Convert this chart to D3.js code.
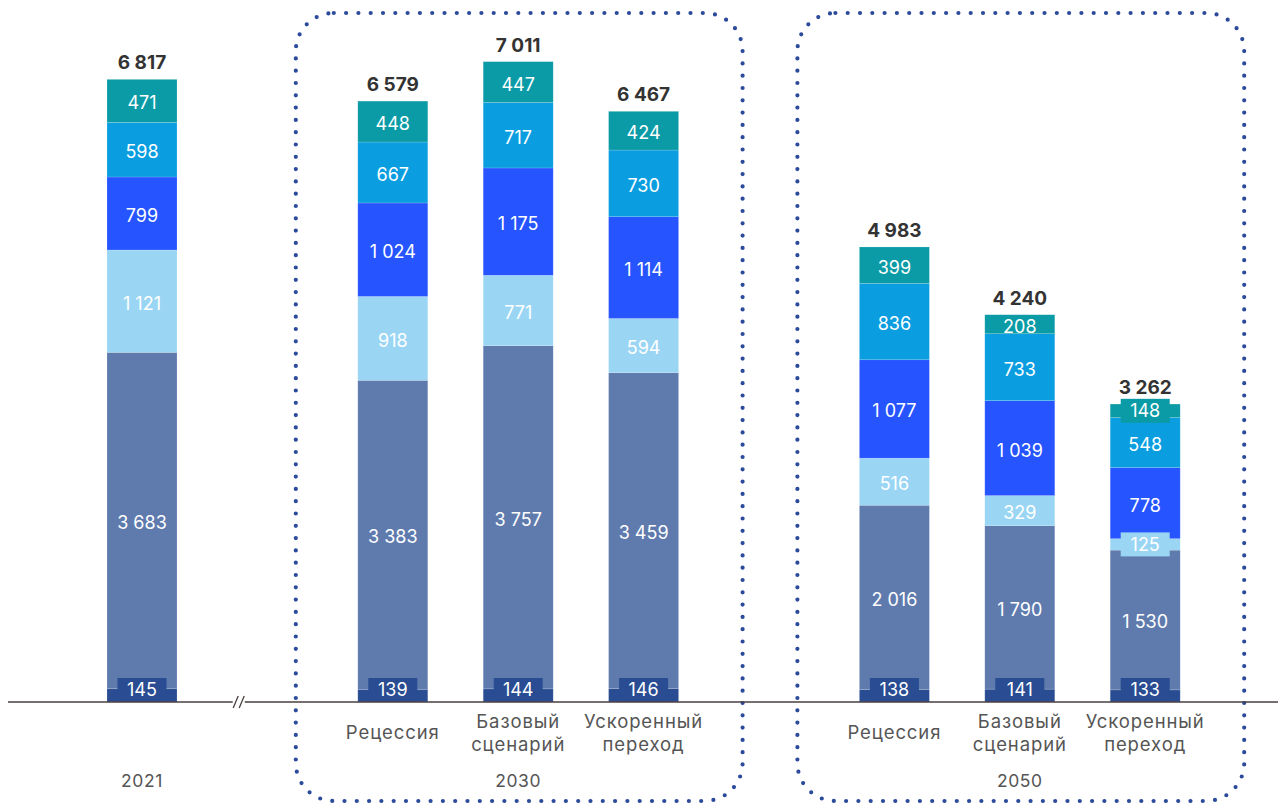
<!DOCTYPE html>
<html><head><meta charset="utf-8">
<script src="https://cdn.jsdelivr.net/npm/d3@7"></script>
<style>
html,body{margin:0;padding:0;background:#fff;}
svg{display:block;font-family:Inter,"Open Sans",sans-serif;}
</style></head>
<body>
<svg id="chart" width="1285" height="804"></svg>
<script>
// ---- data ----
const years = ["2021", "2030", "2050"];
const scenarios = ["Рецессия", "Базовый сценарий", "Ускоренный переход"];
const barYear = ["2021", "2030", "2030", "2030", "2050", "2050", "2050"];
const barScenario = ["", "Рецессия", "Базовый сценарий", "Ускоренный переход", "Рецессия", "Базовый сценарий", "Ускоренный переход"];
const s1 = [145, 139, 144, 146, 138, 141, 133];
const s2 = [3683, 3383, 3757, 3459, 2016, 1790, 1530];
const s3 = [1121, 918, 771, 594, 516, 329, 125];
const s4 = [799, 1024, 1175, 1114, 1077, 1039, 778];
const s5 = [598, 667, 717, 730, 836, 733, 548];
const s6 = [471, 448, 447, 424, 399, 208, 148];
const totals = [6817, 6579, 7011, 6467, 4983, 4240, 3262];

const seriesValues = [s1, s2, s3, s4, s5, s6];
const colors = ["#294C92", "#5F7BAE", "#9AD6F4", "#2654FF", "#0A9EE0", "#0B9BA6"];

const svg = d3.select("#chart");
const baseY = 702;
const fmt = d3.formatLocale({decimal: ",", thousands: "\u2009", grouping: [3], currency: ["", ""]}).format(",d");
const fmtSp = v => fmt(v).replace(/\u2009/g, " ");

// slot keys: bars separated by gaps
const slots = ["b0", "g1", "b1", "b2", "b3", "g2", "b4", "b5", "b6"];
const barSlot = ["b0", "b1", "b2", "b3", "b4", "b5", "b6"];
const x = d3.scalePoint().domain(slots).range([142, 1145.2]);
const y = d3.scaleLinear().domain([0, 7686]).range([baseY, 0]);
const bw = 70;

// build stacked table
const table = barSlot.map((k, i) => {
  const o = {key: k, i};
  seriesValues.forEach((s, j) => o["s" + j] = s[i]);
  return o;
});
const stack = d3.stack().keys(seriesValues.map((s, j) => "s" + j))(table);

// dotted group boxes
const groups = [["b1", "b3"], ["b4", "b6"]];
groups.forEach(([a, b]) => {
  const x0 = x(a) - bw / 2 - 62, x1 = x(b) + bw / 2 + 64;
  svg.append("rect")
    .attr("x", x0).attr("y", 13).attr("width", x1 - x0).attr("height", 788)
    .attr("rx", 38).attr("ry", 38)
    .attr("fill", "none").attr("stroke", "#2B4A9B").attr("stroke-width", 4.2)
    .attr("stroke-linecap", "round").attr("stroke-dasharray", "0 12.3");
});

// bars
const layers = svg.append("g").selectAll("g").data(stack).join("g")
  .attr("fill", (d, j) => colors[j]);
layers.selectAll("rect").data(d => d).join("rect")
  .attr("x", d => x(d.data.key) - bw / 2)
  .attr("y", d => y(d[1]))
  .attr("width", bw)
  .attr("height", d => y(d[0]) - y(d[1]))
  .attr("stroke", "rgba(255,255,255,0.25)").attr("stroke-width", 0.6);

// segment labels
const lblG = svg.append("g");
stack.forEach((layer, j) => {
  layer.forEach(d => {
    const h = y(d[0]) - y(d[1]);
    const cx = x(d.data.key);
    let cy = (y(d[0]) + y(d[1])) / 2;
    const v = d[1] - d[0];
    if (h < 17) {
      const bh = 24, bwid = 49;
      let top = cy - bh / 2;
      if (top + bh > baseY) top = baseY - bh;
      lblG.append("rect").attr("x", cx - bwid / 2).attr("y", top)
        .attr("width", bwid).attr("height", bh).attr("fill", colors[j]);
      cy = top + bh / 2;
    } else {
      cy += 2;
    }
    lblG.append("text").attr("x", cx).attr("y", cy).attr("dy", "0.36em")
      .attr("text-anchor", "middle").attr("fill", "#fff")
      .attr("font-size", 18).attr("font-weight", 400)
      .text(fmtSp(v));
  });
});

// totals
svg.append("g").selectAll("text").data(totals).join("text")
  .attr("x", (d, i) => x(barSlot[i]))
  .attr("y", d => y(d) - 10)
  .attr("text-anchor", "middle").attr("fill", "#333")
  .attr("font-size", 19).attr("font-weight", 700)
  .text(d => fmtSp(d));

// axis line
svg.append("line").attr("x1", 8).attr("x2", 1278).attr("y1", baseY).attr("y2", baseY)
  .attr("stroke", "#4A3F3F").attr("stroke-width", 1.3);
// break mark
const bx = (x("b0") + x("g1")) / 2 + 34;
svg.append("rect").attr("x", bx - 6).attr("y", baseY - 3).attr("width", 12).attr("height", 6).attr("fill", "#fff");
[-3, 3].forEach(o => svg.append("line")
  .attr("x1", bx + o - 2.5).attr("y1", baseY + 6).attr("x2", bx + o + 2.5).attr("y2", baseY - 6)
  .attr("stroke", "#4A3F3F").attr("stroke-width", 1.3));

// scenario labels
const catG = svg.append("g").attr("fill", "#555").attr("font-size", 18.5)
  .attr("letter-spacing", 0.9).attr("text-anchor", "middle");
barScenario.forEach((s, i) => {
  if (!s) return;
  const words = s.split(" ");
  const cx = x(barSlot[i]);
  if (words.length === 1) {
    catG.append("text").attr("x", cx).attr("y", 739).text(s);
  } else {
    words.forEach((w, k) => catG.append("text").attr("x", cx).attr("y", 728 + k * 23).text(w));
  }
});

// year labels
years.forEach(yr => {
  const idx = barYear.map((v, i) => v === yr ? i : -1).filter(i => i >= 0);
  const cx = d3.mean(idx, i => x(barSlot[i]));
  svg.append("text").attr("x", cx).attr("y", 787).attr("text-anchor", "middle")
    .attr("fill", "#555").attr("font-size", 17.5).attr("letter-spacing", 0.6).text(yr);
});
</script>
</body></html>
